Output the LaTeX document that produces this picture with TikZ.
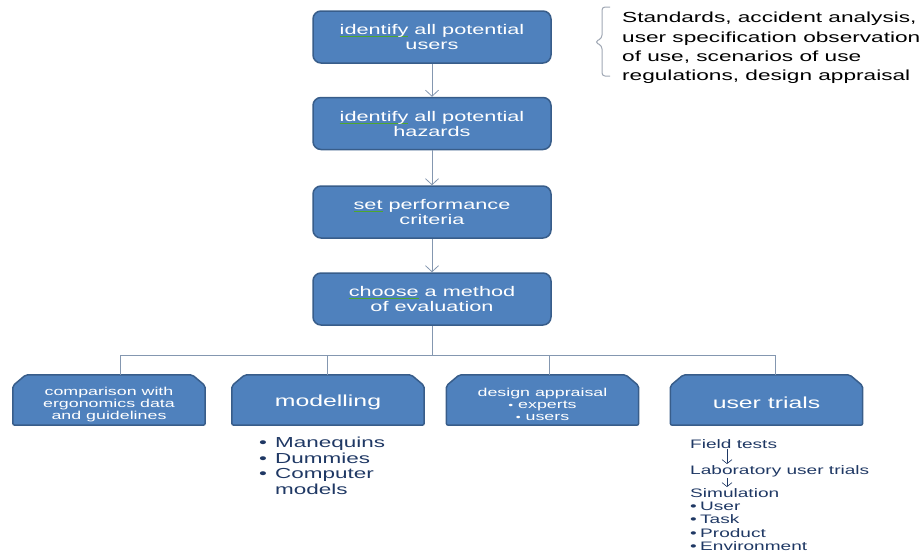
\documentclass[tikz,border=0pt]{standalone}
\usepackage{fontspec}
\setmainfont{Liberation Sans}[FakeStretch=1.55]
\usetikzlibrary{arrows.meta}
\definecolor{boxfill}{HTML}{4F81BD}
\definecolor{boxline}{HTML}{385D8A}
\definecolor{conncol}{HTML}{8497B0}
\definecolor{navy}{HTML}{1F3864}
\definecolor{squig}{HTML}{4EA72E}
\definecolor{bracecol}{HTML}{A0A8B4}
\newcommand\sqw[1]{\setbox0\hbox{#1}\rlap{\color{squig}\rule[-2.5pt]{\wd0}{1pt}}\box0\relax}
\begin{document}
\begin{tikzpicture}[x=1pt,y=-1pt,
 topbox/.style={draw=boxline, line width=1.5pt, fill=boxfill, rounded corners=8pt,
   minimum width=238pt, minimum height=52pt, text=white, align=center,
   font=\fontsize{14}{15}\selectfont, inner sep=0pt},
 botbox/.style={minimum width=192pt, minimum height=50pt, inner sep=0pt},
 botshape/.style={draw=boxline, line width=1.5pt, fill=boxfill, rounded corners=2pt},
 bottext/.style={text=white, align=center, inner sep=0pt},
 connst/.style={draw=conncol, line width=0.8pt},
 arr/.style={connst, -{Straight Barb[length=6pt,width=13pt]}},
 smallarr/.style={draw=navy, line width=0.6pt, -{Straight Barb[length=4pt,width=10pt]}},
 listtext/.style={text=navy, align=left, inner sep=0pt, anchor=north west}]
\useasboundingbox (0,0) rectangle (922,554);
% main column
\node[topbox] (t1) at (432,37) {\sqw{identify} all potential\\users};
\node[topbox] (t2) at (432,123.5) {\sqw{identify} all potential\\hazards};
\node[topbox] (t3) at (432,212) {\sqw{set} performance\\criteria};
\node[topbox] (t4) at (432,299) {\sqw{choose} a method\\of evaluation};
\draw[arr] (t1) -- (t2);
\draw[arr] (t2) -- (t3);
\draw[arr] (t3) -- (t4);
% bottom boxes
\node[botbox] (b1) at (109,400) {};
\node[botbox] (b2) at (328,400) {};
\node[botbox] (b3) at (542.5,400) {};
\node[botbox] (b4) at (766.5,400) {};
\foreach \b in {b1,b2,b3,b4}{
  \draw[botshape] (\b.south west) -- ([yshift=-11pt]\b.north west) -- ([xshift=13pt]\b.north west)
    -- ([xshift=-13pt]\b.north east) -- ([yshift=-11pt]\b.north east) -- (\b.south east) -- cycle;
}
\node[bottext, font=\fontsize{11.5}{12.3}\selectfont] (b1t) at ([yshift=-4.5pt]b1.center) {comparison with\\ergonomics data\\and guidelines};
\node[bottext, font=\fontsize{16}{18}\selectfont] (b2t) at ([yshift=-2pt]b2.center) {modelling};
\node[bottext, font=\fontsize{11.5}{12.3}\selectfont] (b3t) at ([yshift=-4.5pt]b3.center) {design appraisal\\{\fontsize{9}{10}\selectfont•} experts\\{\fontsize{9}{10}\selectfont•} users};
\node[bottext, font=\fontsize{16}{18}\selectfont] (b4t) at ([yshift=-3pt]b4.center) {user trials};
% tree
\coordinate (bar) at (432,355);
\coordinate (j1) at (120,355);
\coordinate (j2) at (327,355);
\coordinate (j3) at (549,355);
\coordinate (j4) at (775,355);
\draw[connst] (t4) -- (bar);
\draw[connst] (j1) -- (j4);
\draw[connst] (j1) -- (j1 |- b1.north);
\draw[connst] (j2) -- (j2 |- b2.north);
\draw[connst] (j3) -- (j3 |- b3.north);
\draw[connst] (j4) -- (j4 |- b4.north);
% sources bracket
\draw[bracecol, line width=1pt, rounded corners=3pt] (610,7) -- (602,7) -- (602,38) -- (595,42) -- (602,46) -- (602,76) -- (610,76);
\node[anchor=west, align=left, inner sep=0pt, font=\fontsize{14.6}{19.3}\selectfont] (refs) at (622,48)
 {Standards, accident analysis,\\user specification observation\\of use, scenarios of use\\regulations, design appraisal};
% modelling list
\node[listtext, font=\fontsize{14.5}{15.5}\selectfont] (ml) at (259,437)
 {\makebox[16pt][l]{•}Manequins\\\makebox[16pt][l]{•}Dummies\\\makebox[16pt][l]{•}Computer\\\hspace*{16pt}models};
% user trials list
\node[listtext, font=\fontsize{12.3}{14.5}\selectfont] (ft) at (690,439) {Field tests};
\node[listtext, font=\fontsize{12.3}{14.5}\selectfont] (lab) at (690,465) {Laboratory user trials};
\node[listtext, font=\fontsize{12.3}{13.4}\selectfont] (sim) at (690,488)
 {Simulation\\\makebox[10pt][l]{•}User\\\makebox[10pt][l]{•}Task\\\makebox[10pt][l]{•}Product\\\makebox[10pt][l]{•}Environment};
\draw[smallarr] ([xshift=37pt,yshift=-1pt]ft.south west) -- ([xshift=37pt,yshift=1pt]lab.north west);
\draw[smallarr] ([xshift=37pt,yshift=-1pt]lab.south west) -- ([xshift=37pt,yshift=1pt]sim.north west);
\end{tikzpicture}
\end{document}
